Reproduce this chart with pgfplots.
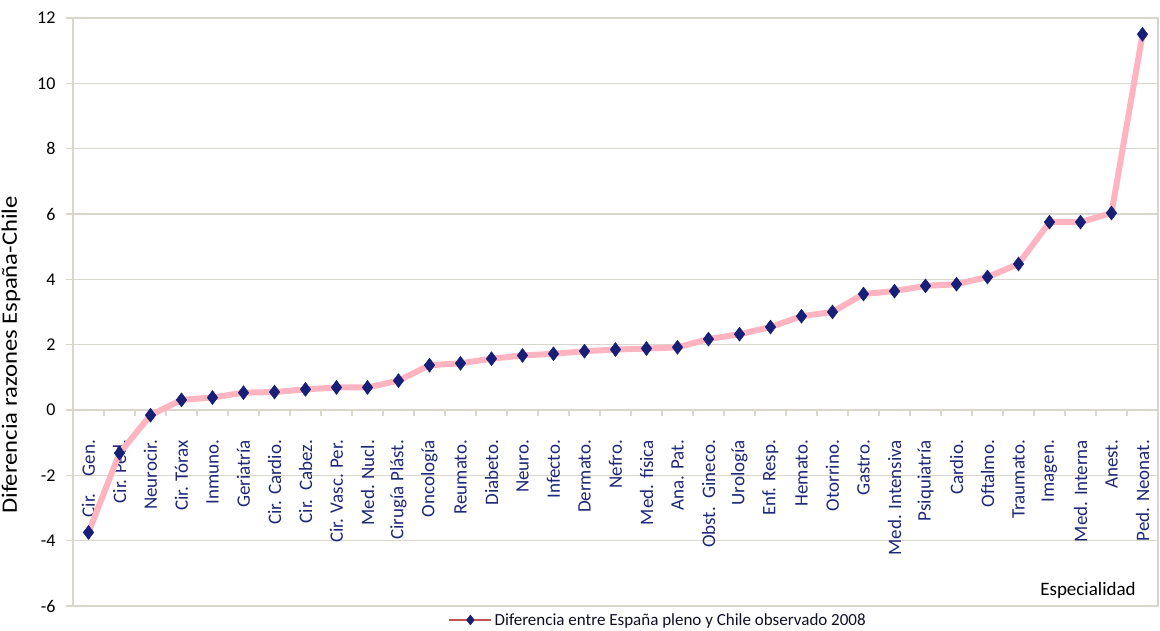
\documentclass[border=0pt]{standalone}
\usepackage{pgfplots}
\pgfplotsset{compat=1.18}
\usepackage{fontspec}
\setmainfont{Carlito}
\definecolor{gridc}{RGB}{217,215,205}
\definecolor{linepink}{RGB}{255,180,192}
\definecolor{navy}{RGB}{22,32,118}
\definecolor{legred}{RGB}{196,84,84}
\definecolor{labnavy}{RGB}{30,40,120}
\begin{document}
\begin{tikzpicture}
\begin{axis}[
  at={(0,0)}, anchor=south west,
  scale only axis, width=1085pt, height=588pt,
  xmin=-0.5, xmax=34.5, ymin=-6, ymax=12,
  enlargelimits=false,
  axis x line=middle, axis y line=left,
  x axis line style={-, gridc, line width=1.6pt},
  y axis line style={-, gridc, line width=1.6pt},
  hide obscured x ticks=false, hide obscured y ticks=false,
  ytick={-6,-4,...,12},
  ymajorgrids, grid style={gridc, line width=1.6pt},
  tick align=outside,
  tick style={gridc, line width=1.6pt},
  major tick length=6.5pt,
  xtick={-0.5,0.5,...,34.5},
  x tick label as interval,
  xticklabels={Cir.~~~~Gen., Cir. Ped., Neurocir., Cir. Tórax, Inmuno., Geriatría, Cir. Cardio., Cir.~~Cabez., Cir. Vasc. Per., Med. Nucl., Cirugía Plást., Oncología, Reumato., Diabeto., Neuro., Infecto., Dermato., Nefro., Med. física, Ana. Pat., Obst.~~Gineco., Urología, Enf. Resp., Hemato., Otorrino., Gastro., Med. Intensiva, Psiquiatría, Cardio., Oftalmo., Traumato., Imagen., Med. Interna, Anest., Ped. Neonat.},
  xticklabel style={font=\fontsize{19}{19}\selectfont, text=labnavy, yshift=-20pt, rotate=90, anchor=east},
  yticklabel style={font=\fontsize{18}{18}\selectfont, text=black, xshift=-7.5pt},
  /pgf/number format/assume math mode=true,
  ylabel={Diferencia razones España-Chile},
  every axis y label/.style={at={(rel axis cs:0,0.427)}, xshift=-62pt, anchor=center, rotate=90, xscale=1.12, font=\fontsize{22}{22}\selectfont, text=black},
  xlabel={Especialidad},
  every axis x label/.style={at={(rel axis cs:0.9355,0.027)}, anchor=center, font=\fontsize{19}{19}\selectfont, text=black},
  legend style={at={(rel axis cs:0.3456,-0.0238)}, anchor=west, draw=none, fill=none, inner sep=0pt, font=\fontsize{17}{17}\selectfont, text={rgb,255:red,15;green,15;blue,40}},
  legend image code/.code={
    \draw[legred, line width=2.5pt] (0pt,0pt) -- (42pt,0pt);
    \draw[navy, fill=navy, line width=0.4pt, mark=diamond*, mark size=5pt] plot coordinates {(21pt,0pt)};
  },
]
\addplot[linepink, line width=6pt, line join=round, mark=diamond*, mark size=7pt, mark options={draw=navy, fill=navy, line width=0.5pt, solid}] table {
x y
0 -3.75
1 -1.32
2 -0.16
3 0.31
4 0.38
5 0.53
6 0.55
7 0.63
8 0.69
9 0.69
10 0.90
11 1.37
12 1.43
13 1.57
14 1.67
15 1.72
16 1.80
17 1.85
18 1.88
19 1.92
20 2.17
21 2.32
22 2.54
23 2.87
24 3.00
25 3.55
26 3.64
27 3.80
28 3.85
29 4.07
30 4.47
31 5.75
32 5.75
33 6.03
34 11.50
};
\addlegendentry{Diferencia entre España pleno y Chile observado 2008}
\end{axis}
\draw[gridc, line width=1.6pt] (0pt,0pt) rectangle (1085pt,588pt);
\pgfresetboundingbox
\path[use as bounding box] (-73pt,-25pt) rectangle (1087pt,606pt);
\end{tikzpicture}
\end{document}
